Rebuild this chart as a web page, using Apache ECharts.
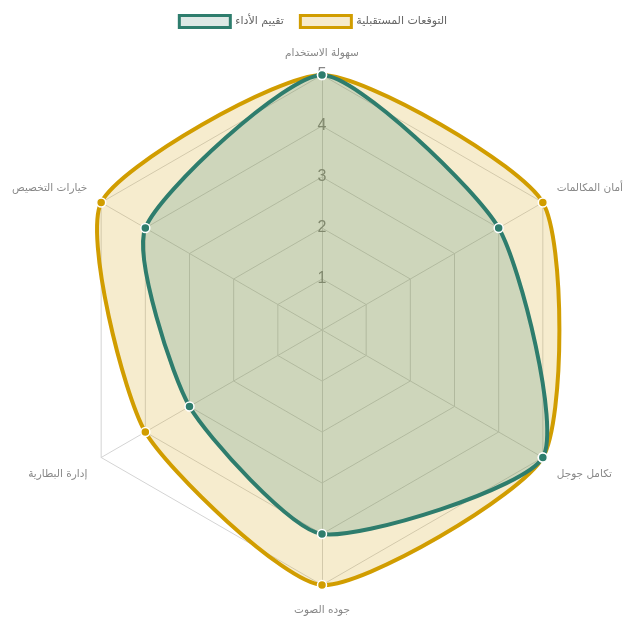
<!DOCTYPE html>
<html>
<head>
<meta charset="utf-8">
<script src="https://cdn.jsdelivr.net/npm/echarts@6/dist/echarts.min.js"></script>
<style>
  html, body { margin: 0; padding: 0; background: #fff; }
  #chart { width: 625px; height: 625px; }
</style>
</head>
<body>
<div id="chart"></div>
<script>
// Indicators, clockwise from the top
const indicatorNames = ['سهولة الاستخدام', 'أمان المكالمات', 'تكامل جوجل', 'جوده الصوت', 'إدارة البطارية', 'خيارات التخصيص'];
const maxValue = 5;

const performanceName = 'تقييم الأداء';
const performanceValues = [5, 4, 5, 4, 3, 4];

const expectationName = 'التوقعات المستقبلية';
const expectationValues = [5, 5, 5, 5, 4, 5];

const GREEN = '#2e7d6d';
const GOLD = '#d19d00';
const CENTER = [322, 330];
const RADIUS = 255;
const NAME_FONT = { color: '#888', fontSize: 10.5, fontFamily: 'DejaVu Sans' };

const chart = echarts.init(document.getElementById('chart'));

// echarts radar goes counter-clockwise, so feed the grid in reverse order
const ccwOrder = indicatorNames.map((_, i) => (indicatorNames.length - i) % indicatorNames.length);
const indicator = ccwOrder.map((idx, i) => {
  const ind = { name: indicatorNames[idx], max: maxValue, min: 0 };
  if (i === 0) {
    // only the top axis carries tick labels
    ind.axisLabel = { show: true, formatter: v => (v === 0 ? '' : v) };
  }
  return ind;
});

// nudge the side names: upper ones up a bit, lower ones down
function nameStyleKey(name) {
  const idx = indicatorNames.indexOf(name);
  if (idx === 1 || idx === 5) return 'up';
  if (idx === 2 || idx === 4) return 'down';
  if (idx === 3) return 'bottom';
  return 'top';
}

const step = 360 / indicatorNames.length;

// smooth closed shape + dots, drawn in the (hidden) polar system laid over the radar grid
function shapeSeries(name, values, color, areaColor) {
  return {
    name: name,
    type: 'custom',
    coordinateSystem: 'polar',
    itemStyle: { color: color },
    encode: { radius: 0, angle: 1 },
    data: values.map((v, i) => [v, i * step]),
    renderItem: function (params, api) {
      const pts = values.map((v, i) => api.coord([v, i * step]));
      const p = pts[params.dataIndex];
      const dot = {
        type: 'circle',
        z2: 10,
        shape: { cx: p[0], cy: p[1], r: 4.5 },
        style: { fill: color, stroke: '#fff', lineWidth: 1.5 }
      };
      if (params.dataIndex !== 0) return dot;
      return {
        type: 'group',
        children: [{
          type: 'polygon',
          shape: { points: pts, smooth: 0.2 },
          style: { fill: areaColor, stroke: color, lineWidth: 4 }
        }, dot]
      };
    }
  };
}

chart.setOption({
  animation: false,
  legend: {
    top: 9,
    left: 'center',
    itemWidth: 51,
    itemHeight: 12,
    itemGap: 15,
    textStyle: { color: '#666', fontSize: 11, fontFamily: 'DejaVu Sans' },
    data: [
      { name: performanceName, icon: 'rect', itemStyle: { color: '#dde8e5', borderColor: GREEN, borderWidth: 3 } },
      { name: expectationName, icon: 'rect', itemStyle: { color: '#f6eacb', borderColor: GOLD, borderWidth: 3 } }
    ]
  },
  radar: {
    center: CENTER,
    radius: RADIUS,
    startAngle: 90,
    splitNumber: 5,
    shape: 'polygon',
    indicator: indicator,
    nameGap: 16,
    axisName: {
      ...NAME_FONT,
      formatter: name => '{' + nameStyleKey(name) + '|' + name + '}',
      rich: {
        top: { ...NAME_FONT },
        up: { ...NAME_FONT, padding: [0, 0, 12, 0] },
        down: { ...NAME_FONT, padding: [18, 0, 0, 0] },
        bottom: { ...NAME_FONT, padding: [4, 0, 0, 0] }
      }
    },
    splitArea: { show: false },
    splitLine: { lineStyle: { color: '#d4d4d4', width: 1 } },
    axisLine: { lineStyle: { color: '#d4d4d4', width: 1 } },
    axisTick: { show: false },
    axisLabel: { show: false, color: '#888', fontSize: 16, margin: 0, align: 'center', verticalAlign: 'middle' }
  },
  polar: { center: CENTER, radius: RADIUS },
  angleAxis: {
    type: 'value', min: 0, max: 360, startAngle: 90, clockwise: true,
    axisLine: { show: false }, axisTick: { show: false }, axisLabel: { show: false }, splitLine: { show: false }
  },
  radiusAxis: {
    type: 'value', min: 0, max: maxValue,
    axisLine: { show: false }, axisTick: { show: false }, axisLabel: { show: false }, splitLine: { show: false }
  },
  series: [
    // gold first so the green shape sits on top
    shapeSeries(expectationName, expectationValues, GOLD, 'rgba(212,160,10,0.2)'),
    shapeSeries(performanceName, performanceValues, GREEN, 'rgba(46,125,109,0.2)')
  ]
});

window.addEventListener('resize', () => chart.resize());
</script>
</body>
</html>
